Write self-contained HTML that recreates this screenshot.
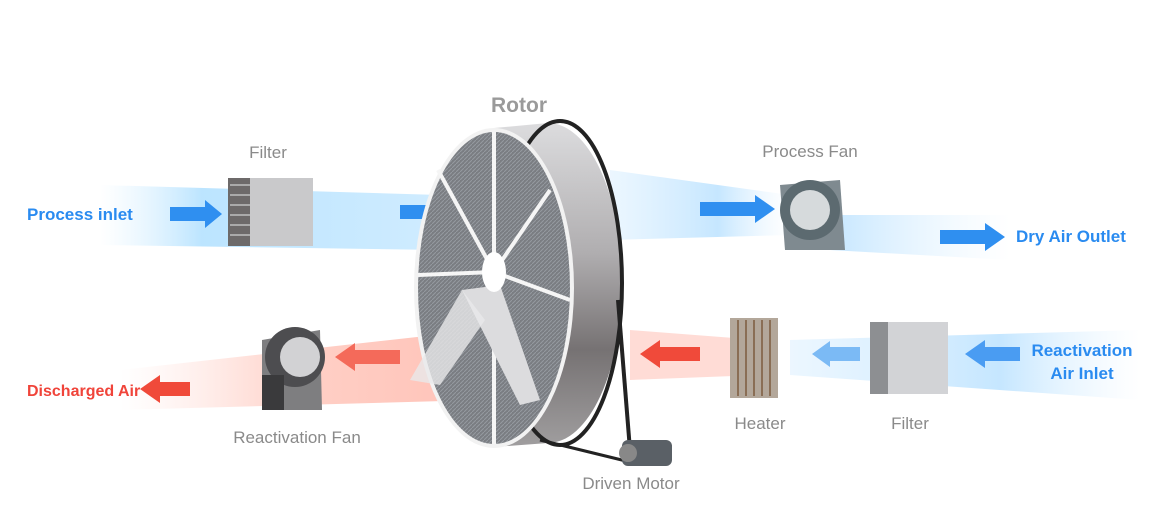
<!DOCTYPE html>
<html><head><meta charset="utf-8"><style>
html,body{margin:0;padding:0;background:#fff;}
svg{display:block;font-family:"Liberation Sans",sans-serif;}
</style></head><body>
<svg width="1150" height="510" viewBox="0 0 1150 510" xmlns="http://www.w3.org/2000/svg">
<defs>
<linearGradient id="bL" x1="0" x2="1"><stop offset="0" stop-color="#bfe6ff" stop-opacity="0"/><stop offset="0.3" stop-color="#8fd3ff" stop-opacity="0.6"/><stop offset="1" stop-color="#a8dcff" stop-opacity="0.55"/></linearGradient>
<linearGradient id="bR" x1="0" x2="1"><stop offset="0" stop-color="#9fd6ff" stop-opacity="0.6"/><stop offset="1" stop-color="#cfeaff" stop-opacity="0"/></linearGradient>
<linearGradient id="bR2" x1="1" x2="0"><stop offset="0" stop-color="#cfeaff" stop-opacity="0"/><stop offset="0.4" stop-color="#9fd6ff" stop-opacity="0.6"/><stop offset="1" stop-color="#cfeaff" stop-opacity="0.4"/></linearGradient>
<linearGradient id="rL" x1="0" x2="1"><stop offset="0" stop-color="#ffd0c8" stop-opacity="0"/><stop offset="0.5" stop-color="#ffb0a0" stop-opacity="0.6"/><stop offset="1" stop-color="#ff9a88" stop-opacity="0.6"/></linearGradient>
<linearGradient id="drum" x1="0" x2="0" y1="0" y2="1"><stop offset="0" stop-color="#dcdcde"/><stop offset="0.4" stop-color="#b0aeb0"/><stop offset="0.7" stop-color="#767273"/><stop offset="1" stop-color="#a09e9f"/></linearGradient>
<pattern id="mesh" width="4" height="4" patternUnits="userSpaceOnUse"><rect width="4" height="4" fill="#7a7d82"/><path d="M0 4L4 0" stroke="#959aa0" stroke-width="1"/></pattern>
</defs>
<path d="M100 185 L440 195 L440 250 L100 245 Z" fill="url(#bL)"/>
<path d="M610 170 L790 195 L790 235 L610 240 Z" fill="url(#bR2)"/>
<path d="M830 215 L1010 215 L1010 260 L830 250 Z" fill="url(#bR)"/>
<path d="M630 330 L760 340 L760 375 L630 380 Z" fill="#ffc0b4" opacity="0.55"/>
<path d="M790 340 L1140 330 L1140 400 L790 375 Z" fill="url(#bR2)"/>
<path d="M120 370 L480 330 L480 400 L120 410 Z" fill="url(#rL)"/>
<path d="M170 207 L205 207 L205 200 L222 214 L205 228 L205 221 L170 221 Z" fill="#2f8ff0"/>
<path d="M400 205 L430 205 L430 198 L450 212 L430 226 L430 219 L400 219 Z" fill="#2f8ff0"/>
<path d="M700 202 L755 202 L755 195 L775 209 L755 223 L755 216 L700 216 Z" fill="#2f8ff0"/>
<path d="M940 230 L985 230 L985 223 L1005 237 L985 251 L985 244 L940 244 Z" fill="#2f8ff0"/>
<path d="M1020 347 L985 347 L985 340 L965 354 L985 368 L985 361 L1020 361 Z" fill="#4a9cf2"/>
<path d="M860 347 L830 347 L830 341 L812 354 L830 367 L830 361 L860 361 Z" fill="#7bbaf5"/>
<path d="M700 347 L660 347 L660 340 L640 354 L660 368 L660 361 L700 361 Z" fill="#f04a3a"/>
<path d="M400 350 L355 350 L355 343 L335 357 L355 371 L355 364 L400 364 Z" fill="#f46a5a"/>
<path d="M190 382 L160 382 L160 375 L140 389 L160 403 L160 396 L190 396 Z" fill="#f04a3a"/>
<rect x="228" y="178" width="85" height="68" fill="#c9c9cb"/>
<rect x="228" y="178" width="22" height="68" fill="#6d6a6a"/>
<g stroke="#aaa" stroke-width="2"><line x1="230" y1="185" x2="250" y2="185"/><line x1="230" y1="195" x2="250" y2="195"/><line x1="230" y1="205" x2="250" y2="205"/><line x1="230" y1="215" x2="250" y2="215"/><line x1="230" y1="225" x2="250" y2="225"/><line x1="230" y1="235" x2="250" y2="235"/></g>
<path d="M780 185 L840 180 L845 250 L785 250 Z" fill="#7f8a90"/>
<circle cx="810" cy="210" r="30" fill="#5c6a70"/>
<circle cx="810" cy="210" r="20" fill="#d6dadc"/>
<path d="M262 340 L320 330 L322 410 L262 410 Z" fill="#7e7e80"/>
<circle cx="295" cy="357" r="30" fill="#4d4d50"/>
<circle cx="300" cy="357" r="20" fill="#d2d2d4"/>
<rect x="262" y="375" width="22" height="35" fill="#3a3a3c"/>
<rect x="730" y="318" width="48" height="80" fill="#b3a79a"/>
<g stroke="#8a6e55" stroke-width="2"><line x1="738" y1="320" x2="738" y2="396"/><line x1="746" y1="320" x2="746" y2="396"/><line x1="754" y1="320" x2="754" y2="396"/><line x1="762" y1="320" x2="762" y2="396"/><line x1="770" y1="320" x2="770" y2="396"/></g>
<rect x="870" y="322" width="78" height="72" fill="#d2d3d6"/>
<rect x="870" y="322" width="18" height="72" fill="#8d8f92"/>
<path d="M494 128 L548 123 A74 160 0 0 1 548 443 L494 447 Z" fill="url(#drum)"/>
<ellipse cx="560" cy="283" rx="62" ry="162" fill="none" stroke="#222" stroke-width="4"/>
<path d="M618 300 L630 450" stroke="#222" stroke-width="4"/>
<path d="M540 440 L630 462" stroke="#222" stroke-width="3"/>
<rect x="622" y="440" width="50" height="26" rx="6" fill="#5a6066"/>
<circle cx="628" cy="453" r="9" fill="#888"/>
<ellipse cx="494" cy="288" rx="80" ry="160" fill="#f2f2f2"/>
<ellipse cx="494" cy="288" rx="76" ry="156" fill="url(#mesh)"/>
<g stroke="#f5f5f5" stroke-width="4">
<line x1="494" y1="272" x2="494" y2="132"/><line x1="494" y1="272" x2="494" y2="444"/>
<line x1="494" y1="272" x2="550" y2="190"/><line x1="494" y1="272" x2="438" y2="170"/>
<line x1="494" y1="272" x2="570" y2="300"/><line x1="494" y1="272" x2="418" y2="275"/>
</g>
<path d="M462 290 L500 285 L540 400 L520 405 Z" fill="#dcdcde"/>
<path d="M462 290 L410 380 L440 385 L485 320 Z" fill="#e8e8ea" opacity="0.8"/>
<ellipse cx="494" cy="272" rx="12" ry="20" fill="#fff"/>
<g font-size="17" fill="#8a8a8a">
<text x="519" y="112" font-size="21" font-weight="bold" text-anchor="middle" fill="#9a9a9a">Rotor</text>
<text x="268" y="158" text-anchor="middle">Filter</text>
<text x="810" y="157" text-anchor="middle">Process Fan</text>
<text x="297" y="443" text-anchor="middle">Reactivation Fan</text>
<text x="760" y="429" text-anchor="middle">Heater</text>
<text x="910" y="429" text-anchor="middle">Filter</text>
<text x="631" y="489" text-anchor="middle">Driven Motor</text>
</g>
<g font-size="17" font-weight="bold" fill="#2a8bf0">
<text x="27" y="220">Process inlet</text>
<text x="1016" y="242">Dry Air Outlet</text>
<text x="1082" y="356" text-anchor="middle">Reactivation</text>
<text x="1082" y="379" text-anchor="middle">Air Inlet</text>
</g>
<text x="27" y="396" font-size="16" font-weight="bold" fill="#f0443a">Discharged Air</text>
</svg>
</body></html>
